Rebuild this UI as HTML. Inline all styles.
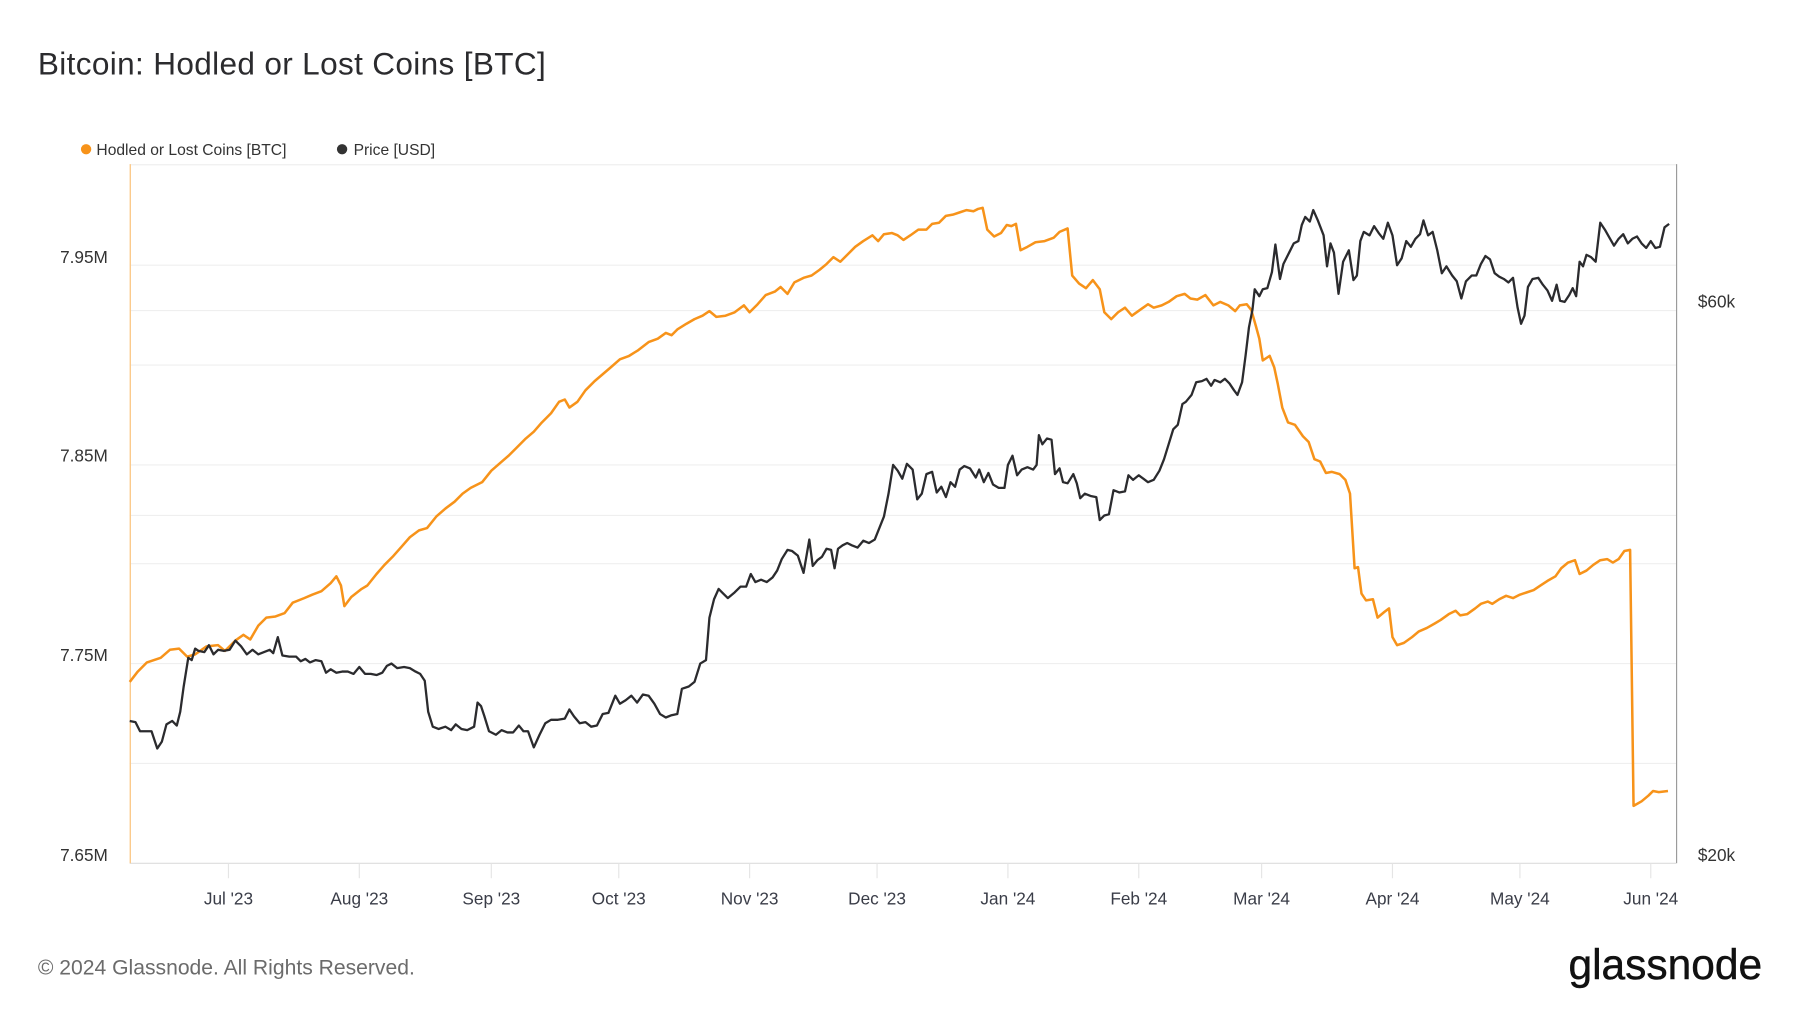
<!DOCTYPE html>
<html><head><meta charset="utf-8"><style>
html,body{margin:0;padding:0;background:#fff;}
svg{display:block;}
text{font-family:"Liberation Sans",sans-serif;}
</style></head><body>
<svg width="1800" height="1013" viewBox="0 0 1568 882.4" preserveAspectRatio="none" xmlns="http://www.w3.org/2000/svg">
<rect width="1568" height="882.4" fill="#fff"/>
<text x="33" y="65" font-size="27.5" fill="#2b2b2e" letter-spacing="0.3">Bitcoin: Hodled or Lost Coins [BTC]</text>
<circle cx="75" cy="130" r="4.5" fill="#f7931a"/>
<text x="84" y="135" font-size="13.6" fill="#333">Hodled or Lost Coins [BTC]</text>
<circle cx="298" cy="130" r="4.5" fill="#333"/>
<text x="308" y="135" font-size="13.6" fill="#333">Price [USD]</text>
<g stroke="#efefef" stroke-width="1">
<line x1="113" y1="143.5" x2="1460" y2="143.5"/>
<line x1="113" y1="231" x2="1460" y2="231"/>
<line x1="113" y1="270.5" x2="1460" y2="270.5"/>
<line x1="113" y1="318" x2="1460" y2="318"/>
<line x1="113" y1="405" x2="1460" y2="405"/>
<line x1="113" y1="449" x2="1460" y2="449"/>
<line x1="113" y1="491" x2="1460" y2="491"/>
<line x1="113" y1="578" x2="1460" y2="578"/>
<line x1="113" y1="665" x2="1460" y2="665"/>
</g>
<line x1="113" y1="752" x2="1460" y2="752" stroke="#ddd"/>
<line x1="113.5" y1="143" x2="113.5" y2="752" stroke="#fbc98a" stroke-width="1.2"/>
<line x1="1460.5" y1="143" x2="1460.5" y2="752" stroke="#999" stroke-width="1"/>
<g stroke="#e5e5e5">
<line x1="199" y1="752" x2="199" y2="765"/><line x1="313" y1="752" x2="313" y2="765"/><line x1="428" y1="752" x2="428" y2="765"/><line x1="539" y1="752" x2="539" y2="765"/><line x1="653" y1="752" x2="653" y2="765"/><line x1="764" y1="752" x2="764" y2="765"/><line x1="878" y1="752" x2="878" y2="765"/><line x1="992" y1="752" x2="992" y2="765"/><line x1="1099" y1="752" x2="1099" y2="765"/><line x1="1213" y1="752" x2="1213" y2="765"/><line x1="1324" y1="752" x2="1324" y2="765"/><line x1="1438" y1="752" x2="1438" y2="765"/>
</g>
<g font-size="15" fill="#3a3d48" text-anchor="middle">
<text x="199" y="788">Jul '23</text><text x="313" y="788">Aug '23</text><text x="428" y="788">Sep '23</text><text x="539" y="788">Oct '23</text><text x="653" y="788">Nov '23</text><text x="764" y="788">Dec '23</text><text x="878" y="788">Jan '24</text><text x="992" y="788">Feb '24</text><text x="1099" y="788">Mar '24</text><text x="1213" y="788">Apr '24</text><text x="1324" y="788">May '24</text><text x="1438" y="788">Jun '24</text>
</g>
<g font-size="15" fill="#333" text-anchor="end">
<text x="94" y="229">7.95M</text><text x="94" y="402">7.85M</text><text x="94" y="576">7.75M</text><text x="94" y="750">7.65M</text>
</g>
<g font-size="15" fill="#333">
<text x="1479" y="268">$60k</text><text x="1479" y="750">$20k</text>
</g>
<polyline fill="none" stroke="#f7931a" stroke-width="2.2" stroke-linejoin="round" points="113,594 120,585 128,577 140,573 148,566 156,565 163,572 170,570 180,563 190,562 196,567 205,558 212,553 218,557 225,545 232,538 240,537 248,534 255,525 265,521 272,518 280,515 288,508 293,502 297,510 300,528 306,520 315,513 320,510 328,500 335,492 342,485 350,476 357,468 365,462 372,460 380,450 388,443 396,437 403,430 410,425 420,420 428,410 436,403 443,397 450,390 458,382 465,376 472,368 480,360 487,350 492,348 496,355 503,350 510,340 518,332 525,326 532,320 540,313 548,310 556,305 565,298 573,295 580,290 585,292 590,287 598,282 605,278 612,275 618,271 624,276 632,275 640,272 648,266 653,272 660,265 667,257 675,254 680,250 686,256 692,246 700,242 707,240 714,235 720,230 726,224 732,228 738,222 745,215 752,210 760,205 765,210 770,204 777,203 782,205 787,209 793,205 800,200 807,200 812,195 818,194 824,188 830,187 836,185 842,183 848,184 852,182 856,181 860,200 866,206 872,203 877,196 881,197 885,195 889,218 895,215 902,211 910,210 918,207 923,202 930,199 934,240 940,247 946,251 952,244 958,252 962,272 968,278 974,272 980,268 986,275 993,270 1000,265 1005,268 1012,266 1018,263 1025,258 1032,256 1037,260 1043,261 1050,257 1057,266 1063,263 1070,266 1076,271 1080,266 1086,265 1090,270 1094,284 1097,295 1100,314 1106,310 1110,320 1113,334 1117,355 1122,368 1128,370 1135,380 1140,385 1145,400 1150,402 1155,412 1160,411 1167,413 1172,418 1176,430 1180,495 1183,494 1186,517 1190,523 1196,522 1200,538 1206,533 1210,530 1213,555 1217,562 1223,560 1230,555 1236,550 1243,547 1250,543 1255,540 1262,535 1268,532 1272,536 1278,535 1285,530 1290,526 1296,524 1300,526 1306,522 1312,519 1318,521 1324,518 1330,516 1336,514 1342,510 1348,506 1355,502 1360,495 1366,490 1372,488 1376,500 1382,497 1388,492 1394,488 1400,487 1405,490 1410,487 1415,480 1420,479 1423,702 1430,698 1436,693 1440,689 1445,690 1453,689"/>
<polyline fill="none" stroke="#2b2b2e" stroke-width="2" stroke-linejoin="round" points="113,628 118,629 122,637 128,637 132,637 137,652 141,646 145,631 150,628 154,632 157,620 160,598 164,573 167,575 170,565 173,567 178,568 182,562 186,570 190,566 195,567 200,566 205,558 210,563 215,570 220,566 225,570 230,568 235,566 238,569 242,555 246,571 252,572 258,572 262,576 266,574 270,577 275,575 280,576 284,586 288,583 293,586 298,585 303,585 308,587 313,581 318,587 323,587 328,588 333,586 337,580 341,578 346,582 352,581 357,582 362,585 366,587 370,593 373,620 377,633 382,635 388,633 393,636 397,631 402,635 407,636 413,633 416,612 419,615 422,624 426,637 432,640 437,636 442,638 447,638 452,632 456,637 460,637 465,651 470,640 475,630 480,627 486,627 492,626 496,618 500,624 505,630 510,629 515,633 520,632 525,622 530,621 536,606 540,613 545,610 550,606 555,612 560,605 565,606 570,613 575,622 580,625 585,623 590,622 594,600 600,598 605,594 610,578 615,575 618,538 622,522 626,513 630,517 634,521 640,516 645,511 650,511 654,500 658,507 663,505 668,507 673,503 677,497 681,487 686,479 690,480 695,484 700,499 705,470 708,493 712,488 716,485 720,478 724,479 727,495 730,478 734,475 738,473 742,475 747,477 752,471 757,473 762,470 766,460 770,450 774,430 778,405 782,410 786,417 790,404 795,409 799,435 803,430 807,413 812,411 816,429 820,424 824,433 828,420 832,424 836,409 840,406 845,408 850,416 853,409 857,420 861,412 865,422 870,425 875,425 878,405 882,397 886,414 890,409 895,407 900,409 903,405 905,379 908,387 912,382 916,383 919,413 923,408 926,420 930,421 935,413 938,421 941,434 945,430 950,432 955,433 958,453 962,449 966,448 970,427 975,429 980,428 983,414 987,418 992,414 996,417 1000,420 1005,418 1010,410 1014,400 1018,387 1022,374 1026,370 1030,352 1033,350 1038,344 1042,333 1047,332 1051,330 1055,336 1058,331 1063,333 1067,330 1071,334 1075,340 1078,344 1082,333 1085,310 1088,285 1091,270 1093,252 1097,258 1100,252 1104,251 1108,237 1111,213 1115,243 1118,230 1123,220 1127,212 1131,210 1134,196 1137,189 1141,193 1144,183 1148,192 1153,205 1156,232 1159,212 1162,220 1166,256 1170,228 1175,218 1179,244 1182,240 1185,210 1188,202 1193,205 1197,197 1201,203 1205,208 1209,194 1213,205 1217,231 1221,225 1225,210 1229,215 1233,208 1237,204 1240,192 1244,205 1248,202 1252,218 1256,238 1260,232 1265,240 1269,245 1273,260 1277,245 1282,240 1286,240 1290,230 1294,223 1298,226 1302,238 1306,241 1310,243 1314,246 1318,242 1322,268 1325,282 1328,275 1331,250 1335,243 1340,242 1344,248 1348,253 1352,262 1356,248 1359,262 1363,263 1367,257 1370,251 1373,258 1376,228 1379,232 1382,222 1386,224 1390,228 1394,194 1398,200 1402,207 1406,214 1410,208 1414,204 1418,212 1422,208 1426,206 1430,212 1434,216 1438,210 1442,216 1446,215 1450,198 1454,195"/>
<text x="33" y="849" font-size="18.4" fill="#6b6b6b">© 2024 Glassnode. All Rights Reserved.</text>
<text x="1535" y="853" font-size="37" fill="#111" text-anchor="end" stroke="#111" stroke-width="0.4" letter-spacing="0">glassnode</text>
</svg>
</body></html>
